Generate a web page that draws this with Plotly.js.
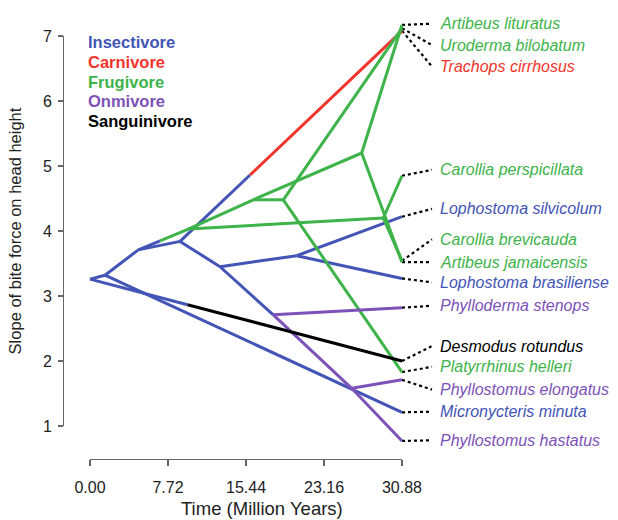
<!DOCTYPE html>
<html>
<head>
<meta charset="utf-8">
<script src="https://cdn.plot.ly/plotly-3.0.1.min.js"></script>
<style>html,body{margin:0;padding:0;background:#fff;}</style>
</head>
<body>
<div id="chart" style="width:618px;height:520px;"></div>
<script>
// ---------------- DATA ----------------
const diets = ["Insectivore", "Carnivore", "Frugivore", "Onmivore", "Sanguinivore"];
const dietColors = ["#4254b5", "#f2352c", "#3db34a", "#7c52b8", "#000000"];

const treeDepth = 30.88;
const xTickVals = [0, 7.72, 15.44, 23.16, 30.88];
const yTickVals = [1, 2, 3, 4, 5, 6, 7];

// tips (species), their diet and trait value (slope of bite force on head height)
const tipNames = ["Artibeus lituratus", "Uroderma bilobatum", "Trachops cirrhosus",
  "Carollia perspicillata", "Lophostoma silvicolum", "Carollia brevicauda",
  "Artibeus jamaicensis", "Lophostoma brasiliense", "Phylloderma stenops",
  "Desmodus rotundus", "Platyrrhinus helleri", "Phyllostomus elongatus",
  "Micronycteris minuta", "Phyllostomus hastatus"];
const tipDiet = ["Frugivore", "Frugivore", "Carnivore", "Frugivore", "Insectivore",
  "Frugivore", "Frugivore", "Insectivore", "Onmivore", "Sanguinivore",
  "Frugivore", "Onmivore", "Insectivore", "Onmivore"];
const tipValues = [7.17, 7.12, 7.08, 4.85, 4.22, 3.54, 3.52, 3.27, 2.82, 2.00, 1.83, 1.71, 1.21, 0.77];

// internal nodes: time (Myr) and reconstructed trait value
const nodeIds = ["root", "nA", "nB", "nC", "nH", "nI", "nJ", "nK", "nL", "nG", "nE", "nD", "nF"];
const nodeTimes = [0, 1.48, 4.78, 8.91, 9.73, 12.87, 20.46, 18.14, 25.90, 16.16, 19.13, 26.89, 29.03];
const nodeValues = [3.26, 3.32, 3.71, 3.84, 4.03, 3.45, 3.62, 2.71, 1.58, 4.48, 4.48, 5.20, 4.20];

// branches: parent, child, diet state, new diet state and time of change (null if none)
const edgeFrom = ["root", "root", "nA", "nA", "nB", "nB", "nC", "nC", "nI", "nI", "nJ", "nJ", "nK",
  "nK", "nL", "nL", "nH", "nH", "nG", "nG", "nE", "nE", "nD", "nD", "nF", "nF"];
const edgeTo = ["Desmodus rotundus", "nA", "Micronycteris minuta", "nB", "nC", "nH",
  "Trachops cirrhosus", "nI", "nJ", "nK", "Lophostoma silvicolum", "Lophostoma brasiliense",
  "Phylloderma stenops", "nL", "Phyllostomus elongatus", "Phyllostomus hastatus", "nG", "nF",
  "nE", "nD", "Uroderma bilobatum", "Platyrrhinus helleri", "Artibeus lituratus",
  "Artibeus jamaicensis", "Carollia perspicillata", "Carollia brevicauda"];
const edgeState = ["Insectivore", "Insectivore", "Insectivore", "Insectivore", "Insectivore",
  "Insectivore", "Insectivore", "Insectivore", "Insectivore", "Insectivore", "Insectivore",
  "Insectivore", "Onmivore", "Onmivore", "Onmivore", "Onmivore", "Frugivore", "Frugivore",
  "Frugivore", "Frugivore", "Frugivore", "Frugivore", "Frugivore", "Frugivore", "Frugivore", "Frugivore"];
const edgeNewState = ["Sanguinivore", null, null, null, null, "Frugivore", "Carnivore", null, null,
  null, null, null, null, null, null, null, null, null, null, null, null, null, null, null, null, null];
const edgeSwitchTime = [9.65, null, null, null, null, 6.93, 15.84, null, null, null, null, null,
  null, null, null, null, null, null, null, null, null, null, null, null, null, null];

// label vertical placement (layout only)
const labelY = [7.19, 6.86, 6.53, 4.94, 4.34, 3.87, 3.52, 3.21, 2.85, 2.23, 1.91, 1.56, 1.22, 0.78];

// ---------------- LAYOUT GEOMETRY (pixels) ----------------
const W = 618, H = 520;
const px0 = 90, px1 = 402;   // x pixel of t=0 and t=treeDepth
const py7 = 36, py1 = 426;   // y pixel of v=7 and v=1
const kx = (px1 - px0) / treeDepth;
const ky = (py1 - py7) / 6;
const xRange = [(0 - px0) / kx, (W - px0) / kx];
const yRange = [7 - (H - py7) / ky, 7 + py7 / ky];
const tx = p => (p - px0) / kx;

function coord(id) {
  const i = nodeIds.indexOf(id);
  if (i >= 0) return [nodeTimes[i], nodeValues[i]];
  const j = tipNames.indexOf(id);
  return [treeDepth, tipValues[j]];
}

const segs = {};
diets.forEach(d => segs[d] = { x: [], y: [] });
function addSeg(state, a, b) {
  segs[state].x.push(a[0], b[0], null);
  segs[state].y.push(a[1], b[1], null);
}
for (let e = 0; e < edgeFrom.length; e++) {
  const a = coord(edgeFrom[e]), b = coord(edgeTo[e]);
  if (edgeNewState[e]) {
    const t = edgeSwitchTime[e];
    const f = (t - a[0]) / (b[0] - a[0]);
    const m = [t, a[1] + f * (b[1] - a[1])];
    addSeg(edgeState[e], a, m);
    addSeg(edgeNewState[e], m, b);
  } else {
    addSeg(edgeState[e], a, b);
  }
}

const traces = [];
// invisible trace to hold visible axes
traces.push({ type: "scatter", mode: "markers", x: [0], y: [1], xaxis: "x2", yaxis: "y2",
  marker: { opacity: 0 }, hoverinfo: "skip", showlegend: false });

// dotted leaders
const lx = [], ly = [];
const leadEnd = tx(432);
tipNames.forEach((n, i) => { lx.push(treeDepth, leadEnd, null); ly.push(tipValues[i], labelY[i], null); });
traces.push({ type: "scatter", mode: "lines", x: lx, y: ly, xaxis: "x", yaxis: "y",
  line: { color: "#000", width: 2.2, dash: "dot" }, hoverinfo: "skip", showlegend: false });

diets.forEach((d, i) => {
  traces.push({ type: "scatter", mode: "lines", name: d, x: segs[d].x, y: segs[d].y,
    xaxis: "x", yaxis: "y", line: { color: dietColors[i], width: 3 },
    hoverinfo: "skip", showlegend: false });
});

const FONT = "Liberation Sans, Arial, Helvetica, sans-serif";
const annotations = [];
tipNames.forEach((n, i) => {
  annotations.push({ x: tx(438), y: labelY[i], xref: "x", yref: "y", text: "<i>" + n + "</i>",
    showarrow: false, xanchor: "left", yanchor: "middle",
    font: { family: FONT, size: 16, color: dietColors[diets.indexOf(tipDiet[i])] } });
});
const legendY = [42, 62, 81.5, 101, 120.5];
diets.forEach((d, i) => {
  annotations.push({ x: tx(86), y: 7 - (legendY[i] - py7) / ky, xref: "x", yref: "y",
    text: "<b>" + d + "</b>", showarrow: false, xanchor: "left", yanchor: "middle",
    font: { family: FONT, size: 16.5, color: dietColors[i] } });
});
// x-axis title, centred on the whole drawing region as in the original
annotations.push({ x: 262 / W, y: (H - 508) / H, xref: "paper", yref: "paper",
  text: "Time (Million Years)", showarrow: false, xanchor: "center", yanchor: "middle",
  font: { family: FONT, size: 18.5, color: "#222" } });

const axStyle = { showline: true, linecolor: "#666", linewidth: 1.3, ticks: "outside",
  tickcolor: "#666", tickwidth: 1.3, showgrid: false, zeroline: false, automargin: false,
  tickfont: { family: FONT, size: 16, color: "#222" } };

const layout = {
  width: W, height: H, margin: { l: 0, r: 0, t: 0, b: 0 },
  paper_bgcolor: "#fff", plot_bgcolor: "rgba(0,0,0,0)", showlegend: false,
  font: { family: FONT },
  xaxis: { domain: [0, 1], range: xRange, visible: false, fixedrange: true },
  yaxis: { domain: [0, 1], range: yRange, visible: false, fixedrange: true },
  xaxis2: Object.assign({}, axStyle, {
    domain: [px0 / W, px1 / W], range: [-0.0005, treeDepth + 0.0005], anchor: "free",
    position: (H - 459) / H, ticklen: 6, tickvals: xTickVals, ticklabelstandoff: 7,
    ticktext: xTickVals.map(v => v.toFixed(2)) }),
  yaxis2: Object.assign({}, axStyle, {
    domain: [(H - py1) / H, (H - py7) / H], range: [1 - 0.0005, 7.0005], anchor: "free",
    position: 63 / W, ticklen: 5, tickvals: yTickVals, tickangle: 0, ticklabelstandoff: 3,
    title: { text: "Slope of bite force on head height", font: { family: FONT, size: 16.5, color: "#222" }, standoff: 15 } }),
  annotations: annotations
};

Plotly.newPlot("chart", traces, layout, { displayModeBar: false, staticPlot: true });
</script>
</body>
</html>
